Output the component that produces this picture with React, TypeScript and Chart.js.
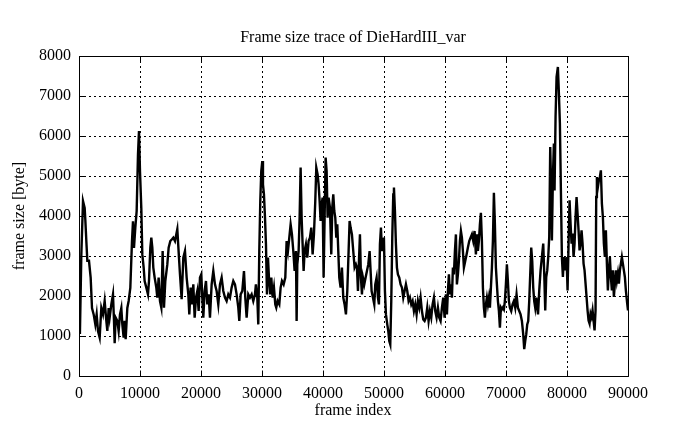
import React, { useEffect, useRef } from "react";
import { Chart, registerables } from "chart.js";

Chart.register(...registerables);

const chartTitle = "Frame size trace of DieHardIII_var";
const xAxisTitle = "frame index";
const yAxisTitle = "frame size [byte]";

const xTicks = [0, 10000, 20000, 30000, 40000, 50000, 60000, 70000, 80000, 90000];
const yTicks = [0, 1000, 2000, 3000, 4000, 5000, 6000, 7000, 8000];

const frameIndex = [
  0, 150, 382, 656, 929, 1038, 1202, 1366, 1639, 1912, 2131, 2404, 2677, 2896, 3114, 3387, 3660, 3934, 4207, 4480,
  4644, 4862, 5026, 5299, 5572, 5736, 5846, 6010, 6283, 6501, 6720, 6938, 7102, 7321, 7485, 7649, 7922, 8140, 8413, 8686,
  8850, 9014, 9233, 9452, 9670, 9834, 9998, 10215, 10380, 10600, 10760, 11036, 11310, 11473, 11692, 11855, 12020, 12183, 12402, 12675,
  12838, 13057, 13276, 13494, 13713, 13931, 14150, 14478, 14696, 14970, 15243, 15460, 15735, 16117, 16390, 16554, 16827, 17100, 17373, 17647,
  17920, 18083, 18300, 18520, 18740, 18960, 19176, 19395, 19614, 19832, 20050, 20214, 20378, 20597, 20815, 21034, 21252, 21470, 21744, 22018,
  22290, 22563, 22836, 23110, 23383, 23656, 23930, 24200, 24475, 24750, 25020, 25295, 25568, 25840, 26114, 26280, 26500, 26770, 27045, 27260,
  27480, 27753, 28026, 28300, 28573, 28846, 29000, 29230, 29390, 29555, 29720, 29880, 30048, 30160, 30320, 30490, 30650, 30814, 30980, 31140,
  31360, 31525, 31740, 31960, 32180, 32340, 32560, 32835, 33053, 33270, 33545, 33820, 34036, 34255, 34474, 34692, 34910, 35130, 35348, 35566,
  35675, 35785, 36003, 36167, 36330, 36495, 36660, 36823, 36987, 37200, 37424, 37640, 37860, 38080, 38300, 38516, 38735, 38900, 39117, 39280,
  39445, 39608, 39773, 39936, 40100, 40264, 40430, 40592, 40756, 40920, 41140, 41357, 41520, 41685, 41850, 42012, 42176, 42340, 42505, 42670,
  42887, 43105, 43323, 43542, 43760, 43980, 44198, 44360, 44525, 44743, 44960, 45180, 45400, 45565, 45730, 45893, 46056, 46220, 46384, 46548,
  46766, 46985, 47203, 47422, 47640, 47804, 47968, 48187, 48405, 48570, 48788, 49006, 49170, 49333, 49500, 49662, 49826, 49990, 50153, 50318,
  50536, 50700, 50864, 51028, 51192, 51356, 51519, 51630, 51793, 51956, 52120, 52284, 52503, 52721, 52940, 53158, 53376, 53595, 53814, 54032,
  54250, 54470, 54688, 54906, 55125, 55343, 55562, 55780, 56000, 56217, 56436, 56654, 56873, 57092, 57310, 57528, 57747, 57965, 58184, 58400,
  58620, 58840, 59058, 59276, 59495, 59714, 59932, 60150, 60314, 60478, 60642, 60806, 60970, 61133, 61297, 61460, 61625, 61790, 61950, 62117,
  62280, 62445, 62608, 62772, 62936, 63100, 63318, 63537, 63755, 63974, 64192, 64410, 64630, 64848, 65067, 65230, 65395, 65558, 65722, 65886,
  66050, 66214, 66378, 66541, 66705, 66870, 67033, 67197, 67361, 67525, 67690, 67852, 68016, 68180, 68345, 68508, 68672, 68836, 69000, 69164,
  69328, 69492, 69655, 69820, 69983, 70146, 70310, 70475, 70640, 70857, 71076, 71295, 71513, 71730, 71950, 72170, 72387, 72606, 72825, 72988,
  73150, 73316, 73480, 73643, 73808, 73971, 74135, 74300, 74463, 74627, 74790, 74955, 75118, 75250, 75450, 75667, 75885, 76104, 76268, 76432,
  76596, 76760, 76923, 77087, 77250, 77415, 77525, 77688, 77852, 77960, 78125, 78290, 78507, 78671, 78835, 79000, 79163, 79327, 79490, 79710,
  79928, 80092, 80256, 80420, 80584, 80748, 80912, 81075, 81240, 81403, 81567, 81730, 81895, 82058, 82222, 82386, 82550, 82714, 82878, 83042,
  83206, 83370, 83534, 83698, 83860, 84025, 84190, 84353, 84517, 84680, 84790, 84900, 85064, 85227, 85390, 85555, 85720, 85883, 86046, 86210,
  86374, 86538, 86700, 86865, 87030, 87193, 87357, 87520, 87685, 87850, 88012, 88177, 88340, 88505, 88670, 88832, 88996, 89160, 89324, 89488,
  89650, 89870, 90000,
];

const frameSize = [
  1500, 1050, 3040, 4375, 4200, 3900, 3375, 2880, 2880, 2460, 1700, 1540, 1290, 1540, 1125, 960, 1700, 1540, 1875, 1380,
  1125, 1700, 1460, 1790, 2040, 1380, 820, 1460, 1380, 1125, 1540, 1700, 1290, 960, 1380, 920, 1700, 1875, 2200, 3375,
  3870, 3200, 3710, 4125, 5540, 6125, 5125, 4200, 3040, 2710, 2375, 2210, 2040, 2375, 3210, 3460, 3210, 2710, 2460, 2210,
  1960, 2460, 1875, 1710, 3125, 1710, 2375, 2790, 3210, 3375, 3420, 3460, 3375, 3670, 2960, 2540, 1920, 2960, 3125, 2460,
  2040, 1540, 2210, 1790, 2290, 1460, 1960, 2125, 1625, 2460, 2540, 1960, 1460, 2125, 2375, 1790, 2040, 1460, 2290, 2625,
  2290, 2125, 1790, 2290, 2460, 2125, 1960, 1875, 2040, 1960, 2210, 2375, 2290, 2040, 1710, 1375, 2040, 2125, 2625, 1960,
  1460, 2040, 1960, 2040, 1875, 2040, 2290, 1960, 1290, 3125, 4375, 5125, 5375, 4790, 4540, 3960, 3290, 2040, 2960, 2460,
  2040, 2460, 1960, 2210, 1790, 1710, 1875, 1790, 2210, 2375, 2290, 2460, 3375, 3125, 3460, 3790, 3540, 3125, 2625, 3125,
  1375, 2790, 3125, 3960, 5210, 3960, 3290, 2625, 3125, 3290, 2960, 3375, 3460, 3710, 3040, 3540, 4375, 5210, 5040, 4790,
  4375, 3875, 4290, 4460, 2460, 3960, 5460, 5125, 3960, 4460, 4210, 3040, 4210, 4540, 4125, 3960, 3460, 3790, 3125, 2460,
  2210, 2710, 1960, 1790, 1540, 2125, 3125, 3875, 3710, 3540, 3125, 2710, 2790, 2710, 2125, 2875, 3540, 2460, 2040, 2460,
  2290, 2460, 2625, 2790, 3125, 2625, 2125, 1960, 1790, 2290, 2460, 1960, 1790, 3290, 3710, 3125, 3290, 3460, 2125, 1540,
  1290, 1125, 875, 790, 1875, 3460, 4540, 4710, 4125, 3290, 2710, 2540, 2460, 2290, 2210, 1960, 2125, 2290, 2125, 1875,
  1960, 1790, 1875, 1625, 1790, 1540, 1875, 1710, 1960, 1625, 1415, 1375, 1460, 1710, 1375, 1625, 1460, 1790, 1960, 1625,
  1460, 1710, 1460, 1375, 1710, 1960, 1460, 2040, 1540, 2125, 2540, 2040, 2290, 1960, 2710, 2540, 3125, 3540, 2290, 2540,
  2875, 3375, 3625, 3460, 3125, 2710, 2875, 3040, 3210, 3375, 3460, 3540, 3375, 3625, 3040, 3540, 3125, 3375, 3790, 4080,
  3375, 2210, 1710, 1460, 1790, 1960, 1790, 1960, 1710, 2210, 2710, 3375, 4580, 3790, 2710, 2290, 1875, 1625, 1210, 1710,
  1665, 1710, 1665, 1875, 2290, 2790, 2375, 1875, 1710, 1625, 1790, 1875, 1710, 2040, 1710, 1625, 1540, 1375, 1040, 670,
  875, 1040, 1290, 1375, 1875, 2540, 3210, 2875, 2210, 1875, 1710, 1960, 1710, 1540, 2140, 2640, 2975, 3310, 2560, 1640,
  2475, 2640, 2975, 3475, 5725, 4640, 3390, 4975, 5810, 4640, 6475, 7475, 7725, 7060, 6310, 4640, 2975, 2475, 2975, 2640,
  2975, 2140, 3310, 4390, 3810, 3310, 3560, 2975, 3310, 3975, 4475, 4060, 3640, 3140, 3310, 3640, 3310, 2810, 2640, 2310,
  1975, 1640, 1390, 1310, 1560, 1475, 1640, 1390, 1140, 1640, 4475, 4975, 4725, 4890, 4975, 5140, 4310, 3975, 3310, 2975,
  3640, 2810, 2140, 2640, 2975, 2475, 2140, 2640, 1975, 2310, 2640, 2390, 2560, 2310, 2640, 2810, 2975, 2810, 2640, 2475,
  2140, 1810, 1640,
];

const FONT = "'Liberation Serif', 'Times New Roman', 'DejaVu Serif', serif";

export default function App() {
  const ref = useRef<HTMLCanvasElement>(null);

  useEffect(() => {
    document.body.style.margin = "0";
    const canvas = ref.current;
    if (!canvas) return;

    const align = (p: number) => Math.round(p - 0.5) + 0.5;

    const framePlugin = {
      id: "gnuplotFrame",
      afterDatasetsDraw(chart: any) {
        const { ctx, chartArea, scales } = chart;
        const l = align(chartArea.left);
        const r = align(chartArea.right);
        const t = align(chartArea.top);
        const b = align(chartArea.bottom);
        ctx.save();
        ctx.strokeStyle = "#000";
        ctx.lineWidth = 1;
        ctx.setLineDash([]);
        ctx.beginPath();
        ctx.rect(l, t, r - l, b - t);
        const tick = 6;
        xTicks.forEach((v) => {
          const x = align(scales.x.getPixelForValue(v));
          ctx.moveTo(x, b);
          ctx.lineTo(x, b - tick);
          ctx.moveTo(x, t);
          ctx.lineTo(x, t + tick);
        });
        yTicks.forEach((v) => {
          const y = align(scales.y.getPixelForValue(v));
          ctx.moveTo(l, y);
          ctx.lineTo(l + tick, y);
          ctx.moveTo(r, y);
          ctx.lineTo(r - tick, y);
        });
        ctx.stroke();
        ctx.restore();
      },
      afterDraw(chart: any) {
        const { ctx } = chart;
        ctx.save();
        ctx.fillStyle = "#000";
        ctx.font = `16px ${FONT}`;
        ctx.textAlign = "center";
        ctx.textBaseline = "middle";
        ctx.fillText(chartTitle, 353, 38);
        ctx.fillText(xAxisTitle, 353, 411);
        ctx.translate(20, 216);
        ctx.rotate(-Math.PI / 2);
        ctx.fillText(yAxisTitle, 0, 0);
        ctx.restore();
      },
    };

    const points = frameIndex.map((x, i) => ({ x, y: frameSize[i] }));

    const chart = new Chart(canvas, {
      type: "line",
      data: {
        datasets: [
          {
            data: points,
            borderColor: "#000",
            borderWidth: 2.4,
            pointRadius: 0,
            tension: 0,
            fill: false,
          },
        ],
      },
      options: {
        responsive: false,
        animation: false,
        events: [],
        layout: { padding: { top: 56, right: 67, left: 0, bottom: 0 } },
        plugins: {
          legend: { display: false },
          tooltip: { enabled: false },
          title: { display: false },
        },
        scales: {
          x: {
            type: "linear",
            min: 0,
            max: 90000,
            afterBuildTicks: (s: any) => {
              s.ticks = xTicks.map((v) => ({ value: v }));
            },
            afterFit: (s: any) => {
              s.height = 53;
            },
            grid: { color: "#000", lineWidth: 1, drawTicks: false },
            border: { display: false, dash: [2, 3] },
            ticks: {
              color: "#000",
              font: { family: FONT, size: 16 },
              padding: 8,
              maxRotation: 0,
              autoSkip: false,
              callback: (v: any) => String(v),
            },
          },
          y: {
            type: "linear",
            min: 0,
            max: 8000,
            afterBuildTicks: (s: any) => {
              s.ticks = yTicks.map((v) => ({ value: v }));
            },
            afterFit: (s: any) => {
              s.width = 79;
            },
            grid: { color: "#000", lineWidth: 1, drawTicks: false },
            border: { display: false, dash: [2, 3] },
            ticks: {
              color: "#000",
              font: { family: FONT, size: 16 },
              padding: 8,
              autoSkip: false,
              callback: (v: any) => String(v),
            },
          },
        },
      },
      plugins: [framePlugin],
    } as any);

    return () => chart.destroy();
  }, []);

  return <canvas ref={ref} width={695} height={429} style={{ display: "block" }} />;
}
